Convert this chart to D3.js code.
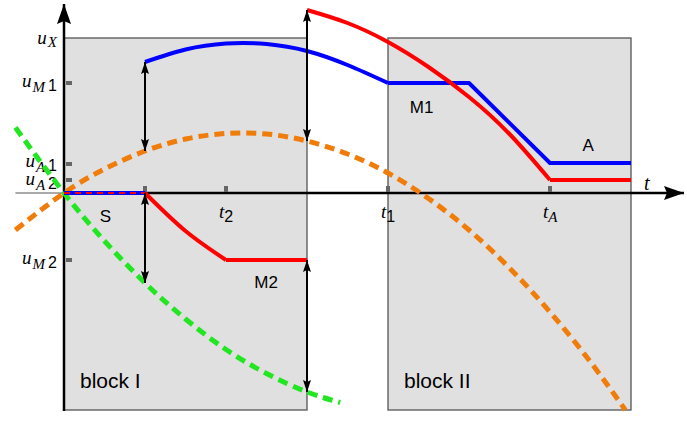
<!DOCTYPE html>
<html>
<head>
<meta charset="utf-8">
<script src="https://cdn.jsdelivr.net/npm/d3@7"></script>
<style>
  body { margin: 0; background: #fff; }
</style>
</head>
<body>
<div id="chart"></div>
<script>
// Curve samples (time units, signal units)
const blueT = [1, 1.5, 2, 2.5, 3, 3.5, 4];
const blueU = [2.62, 2.87, 2.99, 2.98, 2.84, 2.56, 2.2];
const blueTailT = [4, 5, 6, 7];
const blueTailU = [2.2, 2.2, 0.6, 0.6];

const redT = [3, 3.5, 4, 4.5, 5, 5.5, 6];
const redU = [3.66, 3.40, 3.02, 2.52, 1.92, 1.18, 0.26];
const redTailT = [6, 7];
const redTailU = [0.26, 0.26];

const m2T = [1, 1.5, 2];
const m2U = [0, -0.76, -1.34];
const m2TailT = [2, 3];
const m2TailU = [-1.34, -1.34];

const sT = [0, 1];
const sU = [0, 0];

const orangeT = [-0.6, 0, 0.5, 1, 1.5, 2, 2.5, 3, 3.5, 4, 4.5, 5, 5.5, 6, 6.5, 6.93];
const orangeU = [-0.74, 0, 0.48, 0.84, 1.08, 1.19, 1.18, 1.04, 0.78, 0.40, -0.11, -0.74, -1.50, -2.38, -3.38, -4.34];

const greenT = [-0.6, 0, 0.5, 1, 1.5, 2, 2.5, 3, 3.41];
const greenU = [1.31, 0, -0.96, -1.80, -2.52, -3.13, -3.61, -3.98, -4.19];

// double arrows: time, from, to
const arrowT = [1, 1, 3, 3];
const arrowFrom = [2.62, 0, 3.66, -1.34];
const arrowTo = [0.84, -1.80, 1.04, -3.98];

// blocks
const blockNames = ["block I", "block II"];
const blockStart = [0, 4];
const blockEnd = [3, 7];
const blockTop = 3.1;
const blockBottom = -4.34;

// ticks
const xTickVals = [1, 2, 4, 6];
const xTickSubs = [null, "2", "1", "A"];
const yTickVals = [2.2, 0.58, 0.26, -1.34];
const yTickSubs = ["M", "A", "A", "M"];
const yTickNums = ["1", "1", "2", "2"];
const yLabelShift = [0, -1, 1, 0];
const uXValue = 3.06;

// region labels
const regionNames = ["S", "M2", "M1", "A"];
const regionT = [0.44, 2.35, 4.27, 6.4];
const regionU = [-0.58, -1.9, 1.6, 0.84];

const width = 687, height = 421;

const x = d3.scaleLinear().domain([0, 7]).range([64, 631]);
const y = d3.scaleLinear().domain([-4.34, 3.66]).range([410, 10]);

const svg = d3.select("#chart").append("svg")
    .attr("width", width)
    .attr("height", height)
    .attr("viewBox", [0, 0, width, height]);

const defs = svg.append("defs");
defs.append("marker")
    .attr("id", "head")
    .attr("viewBox", "0 0 12 8")
    .attr("refX", 12).attr("refY", 4)
    .attr("markerWidth", 12).attr("markerHeight", 8)
    .attr("markerUnits", "userSpaceOnUse")
    .attr("orient", "auto-start-reverse")
  .append("path")
    .attr("d", "M0,0 L12,4 L0,8 L2,4 Z")
    .attr("fill", "#000");
defs.append("marker")
    .attr("id", "axishead")
    .attr("viewBox", "0 0 20 14")
    .attr("refX", 20).attr("refY", 7)
    .attr("markerWidth", 20).attr("markerHeight", 14)
    .attr("markerUnits", "userSpaceOnUse")
    .attr("orient", "auto")
  .append("path")
    .attr("d", "M0,0 L20,7 L0,14 L3,7 Z")
    .attr("fill", "#000");

// blocks
svg.append("g")
  .selectAll("rect")
  .data(blockNames)
  .join("rect")
    .attr("x", (d, i) => x(blockStart[i]))
    .attr("y", y(blockTop))
    .attr("width", (d, i) => x(blockEnd[i]) - x(blockStart[i]))
    .attr("height", y(blockBottom) - y(blockTop))
    .attr("fill", "#e0e0e0")
    .attr("stroke", "#555")
    .attr("stroke-width", 1.3);

svg.append("g")
  .selectAll("text")
  .data(blockNames)
  .join("text")
    .attr("x", (d, i) => x(blockStart[i]) + 16)
    .attr("y", y(-3.9))
    .attr("font-family", "Liberation Sans, Arial, sans-serif")
    .attr("font-size", 21)
    .text(d => d);

// axes
svg.append("line")
    .attr("x1", x(-0.6)).attr("x2", x(0))
    .attr("y1", y(0)).attr("y2", y(0))
    .attr("stroke", "#555").attr("stroke-width", 1);
svg.append("line")
    .attr("x1", x(0)).attr("x2", 684)
    .attr("y1", y(0)).attr("y2", y(0))
    .attr("stroke", "#000").attr("stroke-width", 2.5)
    .attr("marker-end", "url(#axishead)");
svg.append("line")
    .attr("x1", x(0)).attr("x2", x(0))
    .attr("y1", y(blockBottom) + 1).attr("y2", 4)
    .attr("stroke", "#000").attr("stroke-width", 2.5)
    .attr("marker-end", "url(#axishead)");

// tick marks
svg.append("g")
  .selectAll("rect")
  .data(xTickVals)
  .join("rect")
    .attr("x", d => x(d) - 2)
    .attr("y", y(0) - 7)
    .attr("width", 4).attr("height", 6)
    .attr("fill", "#666");
svg.append("g")
  .selectAll("rect")
  .data(yTickVals)
  .join("rect")
    .attr("x", x(0) + 2)
    .attr("y", d => y(d) - 2)
    .attr("width", 6).attr("height", 4)
    .attr("fill", "#666");

const serifIt = "Liberation Serif, Times New Roman, serif";
const sans = "Liberation Sans, Arial, sans-serif";

// x tick labels
xTickVals.forEach((v, i) => {
  if (xTickSubs[i] === null) return;
  const t = svg.append("text")
      .attr("x", x(v) - 7)
      .attr("y", y(0) + 25);
  t.append("tspan")
      .attr("font-family", serifIt).attr("font-style", "italic")
      .attr("font-size", 19)
      .text("t");
  const isDigit = /\d/.test(xTickSubs[i]);
  t.append("tspan")
      .attr("dy", 4)
      .attr("font-family", isDigit ? sans : serifIt)
      .attr("font-style", isDigit ? "normal" : "italic")
      .attr("font-size", isDigit ? 16 : 15)
      .text(xTickSubs[i]);
});

// x axis name
svg.append("text")
    .attr("x", 644).attr("y", y(0) - 3)
    .attr("font-family", serifIt).attr("font-style", "italic")
    .attr("font-size", 20)
    .text("t");

// y tick labels
function yLabel(v, sub, num, drop, shift) {
  const t = svg.append("text")
      .attr("x", x(0) - 7)
      .attr("y", y(v) + 4 + shift)
      .attr("text-anchor", "end");
  t.append("tspan")
      .attr("font-family", serifIt).attr("font-style", "italic")
      .attr("font-size", 19)
      .text("u");
  t.append("tspan")
      .attr("dy", drop)
      .attr("dx", 1)
      .attr("font-family", serifIt).attr("font-style", "italic")
      .attr("font-size", 15)
      .text(sub);
  if (num) {
    t.append("tspan")
        .attr("dy", -1)
        .attr("dx", 3)
        .attr("font-family", sans)
        .attr("font-size", 16)
        .text(num);
  }
}
yLabel(uXValue, "X", null, 3, 0);
yTickVals.forEach((v, i) => yLabel(v, yTickSubs[i], yTickNums[i], 5, yLabelShift[i]));

// curves
const toPts = (T, U) => T.map((t, i) => [t, U[i]]);
const smooth = d3.line().x(d => x(d[0])).y(d => y(d[1])).curve(d3.curveNatural);
const straight = d3.line().x(d => x(d[0])).y(d => y(d[1]));

svg.append("path")
    .attr("d", smooth(toPts(orangeT, orangeU)))
    .attr("fill", "none").attr("stroke", "#f07c0a")
    .attr("stroke-width", 5).attr("stroke-dasharray", "10,6");
svg.append("path")
    .attr("d", smooth(toPts(greenT, greenU)))
    .attr("fill", "none").attr("stroke", "#22e622")
    .attr("stroke-width", 5).attr("stroke-dasharray", "10,6");

function solid(d, color) {
  svg.append("path")
      .attr("d", d)
      .attr("fill", "none").attr("stroke", color)
      .attr("stroke-width", 4)
      .attr("stroke-linejoin", "round");
}
solid(smooth(toPts(blueT, blueU)), "#0000ff");
solid(straight(toPts(blueTailT, blueTailU)), "#0000ff");
solid(smooth(toPts(redT, redU)), "#ff0000");
solid(straight(toPts(redTailT, redTailU)), "#ff0000");
solid(smooth(toPts(m2T, m2U)), "#ff0000");
solid(straight(toPts(m2TailT, m2TailU)), "#ff0000");
solid(straight(toPts(sT, sU)), "#0000ff");
svg.append("path")
    .attr("d", straight(toPts(sT, sU)))
    .attr("fill", "none").attr("stroke", "#ff0000")
    .attr("stroke-width", 2).attr("stroke-dasharray", "6,5");

// double arrows
svg.append("g")
  .selectAll("line")
  .data(arrowT)
  .join("line")
    .attr("x1", d => x(d)).attr("x2", d => x(d))
    .attr("y1", (d, i) => y(arrowFrom[i]))
    .attr("y2", (d, i) => y(arrowTo[i]))
    .attr("stroke", "#000").attr("stroke-width", 2)
    .attr("marker-start", "url(#head)")
    .attr("marker-end", "url(#head)");

// region labels
svg.append("g")
  .selectAll("text")
  .data(regionNames)
  .join("text")
    .attr("x", (d, i) => x(regionT[i]))
    .attr("y", (d, i) => y(regionU[i]))
    .attr("font-family", sans)
    .attr("font-size", 17)
    .text(d => d);
</script>
</body>
</html>
